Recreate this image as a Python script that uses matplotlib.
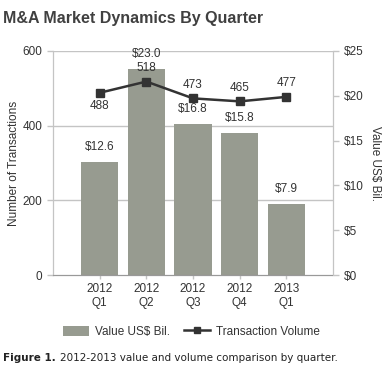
import matplotlib
matplotlib.use("Agg")
import matplotlib.pyplot as plt
from matplotlib.patches import Patch
from matplotlib.lines import Line2D
from matplotlib.transforms import offset_copy

plt.rcParams['font.family'] = ['Liberation Sans', 'DejaVu Sans']

quarters = ["2012\nQ1", "2012\nQ2", "2012\nQ3", "2012\nQ4", "2013\nQ1"]
value_bil = [12.6, 23.0, 16.8, 15.8, 7.9]
volume = [488, 518, 473, 465, 477]
volume_ticks = [0, 200, 400, 600]
value_ticks = [0, 5, 10, 15, 20, 25]

TXT = "#333333"
AXC = "#c4c4c4"
BAR = "#979b90"
LINE = "#333333"

fig = plt.figure(figsize=(3.9, 3.8), dpi=100)
ax = fig.add_axes([0.136, 0.276, 0.718, 0.590])
ax2 = ax.twinx()
ax.set_zorder(ax2.get_zorder() + 1)
ax.patch.set_visible(False)

x = list(range(len(quarters)))

# bars on the right-hand (value) axis
ax2.bar(x, value_bil, width=0.8, color=BAR, zorder=2)
for xi, v in zip(x, value_bil):
    ax2.text(xi, v + 1.0, f"${v:.1f}", ha="center", va="bottom",
             fontsize=8.5, color=TXT)
ax2.set_ylim(0, 25)
ax2.set_yticks(value_ticks)
ax2.set_yticklabels([f"${v}" for v in value_ticks])

# grid from the left axis, drawn under the bars
for t in volume_ticks[1:]:
    ax2.axhline(t / 600 * 25, color=AXC, linewidth=1.0, zorder=0)

# transaction volume line
ax.plot(x, volume, color=LINE, linewidth=1.8, marker="s", markersize=6,
        zorder=3)
for i, (xi, v) in enumerate(zip(x, volume)):
    if i == 0:
        ax.text(xi, v - 20, str(v), ha="center", va="top",
                fontsize=8.5, color=TXT)
    else:
        ax.text(xi, v + 20, str(v), ha="center", va="bottom",
                fontsize=8.5, color=TXT)
ax.set_ylim(0, 600)
ax.set_yticks(volume_ticks)
ax.set_xlim(-1, 5)
ax.set_xticks(x)
ax.set_xticklabels(quarters)

for a in (ax, ax2):
    a.tick_params(colors=AXC, labelcolor=TXT, labelsize=8.5, length=4,
                  width=1.0)
    a.spines["top"].set_visible(False)
    a.spines["left"].set_color(AXC)
    a.spines["right"].set_color(AXC)
    a.spines["bottom"].set_color("#999999")
    a.spines["bottom"].set_linestyle((0, (1, 1)))
ax.tick_params(axis="x", length=3, pad=3)

ax.set_ylabel("Number of Transactions", fontsize=8.5, color=TXT, labelpad=2)
ax2.set_ylabel("Value US$ Bil.", fontsize=8.5, color=TXT, rotation=270,
               labelpad=13)

fig.text(0.008, 0.952, "M&A Market Dynamics By Quarter", fontsize=11.5,
         fontweight="bold", color="#404040", va="center", ha="left")

# legend
handles = [Patch(facecolor=BAR, edgecolor="none"),
           Line2D([], [], color=LINE, linewidth=1.8, marker="s", markersize=5)]
fig.legend(handles, ["Value US$ Bil.", "Transaction Volume"],
           loc="center", bbox_to_anchor=(0.49, 0.127), ncol=2, frameon=False,
           fontsize=8.5, handlelength=2.2, handleheight=0.9,
           columnspacing=1.2, handletextpad=0.5, labelcolor=TXT)

# caption: bold lead-in followed by plain text
lead = fig.text(0.008, 0.058, "Figure 1.", fontsize=7.5, fontweight="bold",
                color="#222222", family="DejaVu Sans", va="center")
renderer = fig.canvas.get_renderer()
lead_w = lead.get_window_extent(renderer).width
fig.text(0.008, 0.058, "2012-2013 value and volume comparison by quarter.",
         fontsize=7.5, color="#222222", family="DejaVu Sans", va="center",
         transform=offset_copy(fig.transFigure, fig=fig,
                               x=lead_w * 72 / fig.dpi + 3, units="points"))

fig.savefig("out.png", dpi=100)
